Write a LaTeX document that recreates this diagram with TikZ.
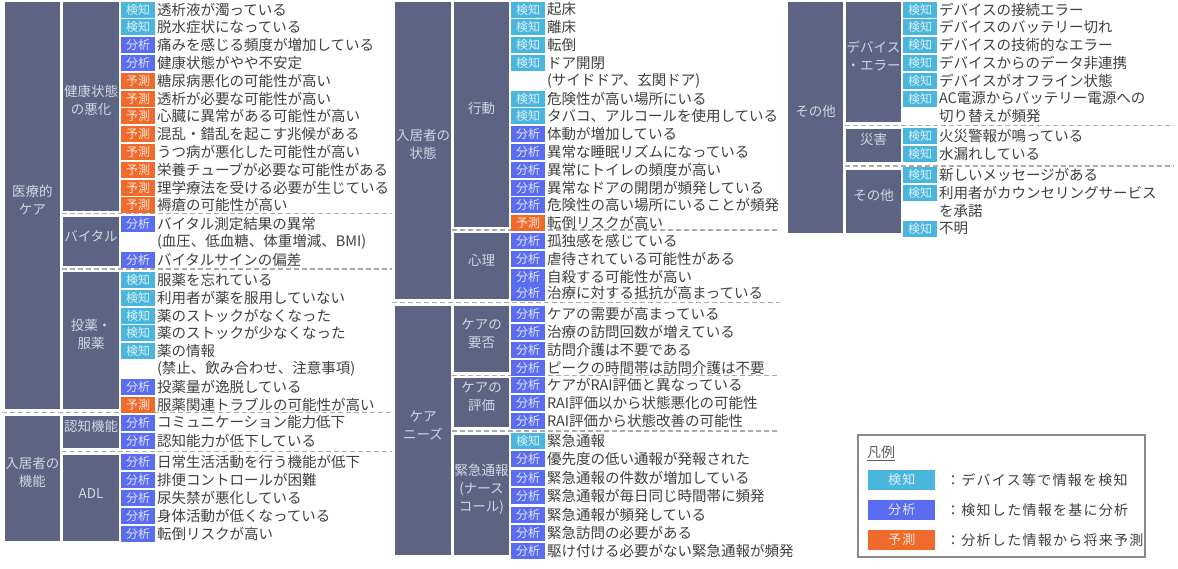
\documentclass[tikz,border=0pt]{standalone}
\usepackage{fontspec}
\newfontfamily\jp{Noto Sans CJK JP}
\newfontfamily\jpls[LetterSpace=9]{Noto Sans CJK JP}
\usetikzlibrary{fit}
\definecolor{gfill}{HTML}{5C6383}
\definecolor{gtext}{HTML}{D3D6E2}
\definecolor{cK}{HTML}{4AB5DD}
\definecolor{lK}{HTML}{DDF2FA}
\definecolor{cA}{HTML}{5A6CF0}
\definecolor{lA}{HTML}{E2E6FF}
\definecolor{cP}{HTML}{F06A2B}
\definecolor{lP}{HTML}{FFE6DA}
\definecolor{txtc}{HTML}{404040}
\definecolor{sepc}{HTML}{ABABAB}
\definecolor{legc}{HTML}{8A8A8A}
\tikzset{
  gbox/.style={fill=gfill, draw=none, inner sep=0pt, outer sep=0pt, text=gtext, align=center,
    font=\jp\fontsize{13.5}{18}\selectfont},
  tagbox/.style={anchor=west, minimum width=34pt, minimum height=16pt, inner sep=0pt, outer sep=0pt,
    font=\jp\fontsize{12}{12}\selectfont},
  txt/.style={anchor=west, inner sep=0pt, outer sep=0pt, text=txtc, font=\jp\fontsize{14.5}{16}\selectfont},
  sepline/.style={draw=sepc, line width=1.1pt, dash pattern=on 5pt off 3pt},
  legtag/.style={anchor=west, minimum width=67pt, minimum height=20pt, inner sep=0pt,
    font=\jpls\fontsize{13}{13}\selectfont},
  legtxt/.style={anchor=west, inner sep=0pt, text=txtc, font=\jpls\fontsize{14}{16}\selectfont}
}
\newcommand\rwK[4]{\node[tagbox,fill=cK,text=lK] (t#1) at (#2,#3) {検知};
  \node[txt] (x#1) at ([xshift=2pt]t#1.east) {#4};}
\newcommand\rwA[4]{\node[tagbox,fill=cA,text=lA] (t#1) at (#2,#3) {分析};
  \node[txt] (x#1) at ([xshift=2pt]t#1.east) {#4};}
\newcommand\rwP[4]{\node[tagbox,fill=cP,text=lP] (t#1) at (#2,#3) {予測};
  \node[txt] (x#1) at ([xshift=2pt]t#1.east) {#4};}
\newcommand\rwC[4]{\node[txt] (x#1) at (#2+36,#3) {#4};}
\newcommand\gb[6]{\node[gbox, fit={(#2,#3) (#4,#5)}] (#1) {#6};}
\begin{document}
\begin{tikzpicture}[x=1pt,y=-1pt]
\useasboundingbox[fill=white] (0,0) rectangle (1178,568);
% ---------- left column ----------
\gb{gA}{5}{2}{60}{409}{医療的\\ケア}
\gb{gB}{5}{416}{60}{541}{入居者の\\機能}
\gb{sA1}{63}{2}{119}{211}{健康状態\\の悪化}
\gb{sA2}{63}{217}{119}{266}{バイタル}
\gb{sA3}{63}{272}{119}{409}{投薬・\\服薬}
\gb{sB1}{63}{416}{119}{448}{認知機能}
\gb{sB2}{63}{455}{119}{541}{ADL}
\draw[sepline] (62,213.5) -- (392,213.5);
\draw[sepline] (62,269) -- (392,269);
\draw[sepline] (2,412.5) -- (392,412.5);
\draw[sepline] (62,451.5) -- (392,451.5);
\rwK{L1}{121}{9.5}{透析液が濁っている}
\rwK{L2}{121}{27.3}{脱水症状になっている}
\rwA{L3}{121}{45.1}{痛みを感じる頻度が増加している}
\rwA{L4}{121}{62.9}{健康状態がやや不安定}
\rwP{L5}{121}{80.7}{糖尿病悪化の可能性が高い}
\rwP{L6}{121}{98.5}{透析が必要な可能性が高い}
\rwP{L7}{121}{116.3}{心臓に異常がある可能性が高い}
\rwP{L8}{121}{134.1}{混乱・錯乱を起こす兆候がある}
\rwP{L9}{121}{151.9}{うつ病が悪化した可能性が高い}
\rwP{L10}{121}{169.7}{栄養チューブが必要な可能性がある}
\rwP{L11}{121}{187.5}{理学療法を受ける必要が生じている}
\rwP{L12}{121}{205.3}{褥瘡の可能性が高い}
\rwA{L13}{121}{224}{バイタル測定結果の異常}
\rwC{L14}{121}{241.8}{(血圧、低血糖、体重増減、BMI)}
\rwA{L15}{121}{259.6}{バイタルサインの偏差}
\rwK{L16}{121}{280}{服薬を忘れている}
\rwK{L17}{121}{297.8}{利用者が薬を服用していない}
\rwK{L18}{121}{315.6}{薬のストックがなくなった}
\rwK{L19}{121}{333.4}{薬のストックが少なくなった}
\rwK{L20}{121}{351.2}{薬の情報}
\rwC{L21}{121}{369}{(禁止、飲み合わせ、注意事項)}
\rwA{L22}{121}{386.8}{投薬量が逸脱している}
\rwP{L23}{121}{404.6}{服薬関連トラブルの可能性が高い}
\rwA{L24}{121}{422.5}{コミュニケーション能力低下}
\rwA{L25}{121}{441}{認知能力が低下している}
\rwA{L26}{121}{462}{日常生活活動を行う機能が低下}
\rwA{L27}{121}{480}{排便コントロールが困難}
\rwA{L28}{121}{498}{尿失禁が悪化している}
\rwA{L29}{121}{516}{身体活動が低くなっている}
\rwA{L30}{121}{534}{転倒リスクが高い}
% ---------- middle column ----------
\gb{gC}{395}{2}{451}{299}{入居者の\\状態}
\gb{gD}{395}{306}{451}{555}{ケア\\ニーズ}
\gb{sC1}{454}{2}{509}{227}{行動}
\gb{sC2}{454}{233}{509}{299}{心理}
\gb{sD1}{454}{306}{509}{372}{ケアの\\要否}
\gb{sD2}{454}{378}{509}{427}{ケアの\\評価}
\gb{sD3}{454}{435}{509}{555}{緊急通報\\(ナース\\コール)}
\draw[sepline] (452,230) -- (780,230);
\draw[sepline] (392,302.5) -- (780,302.5);
\draw[sepline] (452,375.5) -- (780,375.5);
\draw[sepline] (452,431) -- (780,431);
\rwK{M1}{511}{9.5}{起床}
\rwK{M2}{511}{27.3}{離床}
\rwK{M3}{511}{45.1}{転倒}
\rwK{M4}{511}{62.9}{ドア開閉}
\rwC{M5}{511}{80.7}{(サイドドア、玄関ドア)}
\rwK{M6}{511}{98.5}{危険性が高い場所にいる}
\rwK{M7}{511}{116.3}{タバコ、アルコールを使用している}
\rwA{M8}{511}{134.1}{体動が増加している}
\rwA{M9}{511}{151.9}{異常な睡眠リズムになっている}
\rwA{M10}{511}{169.7}{異常にトイレの頻度が高い}
\rwA{M11}{511}{187.5}{異常なドアの開閉が頻発している}
\rwA{M12}{511}{205.3}{危険性の高い場所にいることが頻発}
\rwP{M13}{511}{222.5}{転倒リスクが高い}
\rwA{M14}{511}{241}{孤独感を感じている}
\rwA{M15}{511}{259}{虐待されている可能性がある}
\rwA{M16}{511}{276.5}{自殺する可能性が高い}
\rwA{M17}{511}{293}{治療に対する抵抗が高まっている}
\rwA{M18}{511}{313.5}{ケアの需要が高まっている}
\rwA{M19}{511}{332}{治療の訪問回数が増えている}
\rwA{M20}{511}{350}{訪問介護は不要である}
\rwA{M21}{511}{368}{ピークの時間帯は訪問介護は不要}
\rwA{M22}{511}{384.5}{ケアがRAI評価と異なっている}
\rwA{M23}{511}{403}{RAI評価以から状態悪化の可能性}
\rwA{M24}{511}{421}{RAI評価から状態改善の可能性}
\rwK{M25}{511}{440.5}{緊急通報}
\rwA{M26}{511}{459}{優先度の低い通報が発報された}
\rwA{M27}{511}{477.5}{緊急通報の件数が増加している}
\rwA{M28}{511}{496}{緊急通報が毎日同じ時間帯に頻発}
\rwA{M29}{511}{514.5}{緊急通報が頻発している}
\rwA{M30}{511}{533}{緊急訪問の必要がある}
\rwA{M31}{511}{551}{駆け付ける必要がない緊急通報が頻発}
% ---------- right column ----------
\gb{gE}{788}{2}{843}{233}{その他}
\gb{sE1}{846}{2}{901}{122}{デバイス\\・エラー}
\gb{sE2}{846}{129}{901}{162}{災害}
\gb{sE3}{846}{170}{901}{233}{その他}
\draw[sepline] (845,125.5) -- (1174,125.5);
\draw[sepline] (845,166) -- (1174,166);
\rwK{R1}{903}{9.5}{デバイスの接続エラー}
\rwK{R2}{903}{27.3}{デバイスのバッテリー切れ}
\rwK{R3}{903}{45.1}{デバイスの技術的なエラー}
\rwK{R4}{903}{62.9}{デバイスからのデータ非連携}
\rwK{R5}{903}{80.7}{デバイスがオフライン状態}
\rwK{R6}{903}{98.5}{AC電源からバッテリー電源への}
\rwC{R7}{903}{116.3}{切り替えが頻発}
\rwK{R8}{903}{136}{火災警報が鳴っている}
\rwK{R9}{903}{154}{水漏れしている}
\rwK{R10}{903}{175}{新しいメッセージがある}
\rwK{R11}{903}{193}{利用者がカウンセリングサービス}
\rwC{R12}{903}{211}{を承諾}
\rwK{R13}{903}{228.5}{不明}
% ---------- legend ----------
\node[draw=legc, line width=1.3pt, inner sep=0pt, fit={(858,435) (1145,557)}] (leg) {};
\node[anchor=west, inner sep=0pt, text=txtc!85, font=\jp\fontsize{14}{16}\selectfont] (legtitle) at (867,453) {\underline{凡例}};
\node[legtag, fill=cK, text=lK] (lgK) at (868,480) {検知};
\node[legtag, fill=cA, text=lA] (lgA) at (868,510) {分析};
\node[legtag, fill=cP, text=lP] (lgP) at (868,540) {予測};
\node[legtxt] (lgKt) at (946,480) {：デバイス等で情報を検知};
\node[legtxt] (lgAt) at (946,510) {：検知した情報を基に分析};
\node[legtxt] (lgPt) at (946,540) {：分析した情報から将来予測};
\end{tikzpicture}
\end{document}
